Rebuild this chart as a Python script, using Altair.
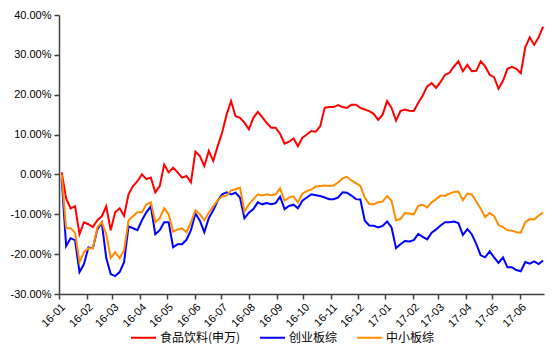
import altair as alt
import pandas as pd

series_names = ["食品饮料(申万)", "创业板综", "中小板综"]
series_colors = ["#FF0000", "#0000FF", "#FF8C00"]
start_date = "2016-01-04"
step_days = 5

# values in percent, one every 5 calendar days
food = [0.5, -6, -8.5, -8, -15, -12, -12.5, -13.2, -11.5, -10.5,
        -8, -14, -9.5, -8.5, -10.4, -5, -2.9, -1.7, 0, -1.2,
        -0.8, -4.5, -2.9, 2.5, 0.5, 1.7, 0.5, -0.8, -0.4, -2,
        5.7, 4.6, 2.1, 5.9, 3.4, 7.1, 10.5, 15, 18.4, 14.6,
        14.2, 13, 11.3, 14.2, 15.7, 14.4, 12.9, 11.7, 11.7, 10.2,
        7.7, 8.2, 9.0, 7.1, 9.2, 10, 10.9, 10.7, 12.1, 16.7,
        16.9, 16.9, 17.4, 16.9, 16.7, 17.5, 17.5, 16.7, 16.3, 15.9,
        15.2, 13.7, 15, 18.4, 16.7, 13.5, 15.9, 16.3, 16, 15.9,
        18, 19.8, 22.1, 22.9, 21.7, 23.2, 25, 25.5, 27.1, 28.4,
        25.9, 27.5, 25.9, 26, 28.4, 27.1, 25, 24.4, 21.5, 23.5,
        26.5, 27, 26.5, 25.4, 31.9, 34.4, 32.5, 34.4, 37.1]

chinext = [-1, -18, -16, -16.5, -24.5, -22.5, -18.3, -18.5, -13.8, -12.1,
           -21, -25, -25.5, -24.5, -22, -13, -13.5, -14, -11.5, -9.5,
           -8, -15, -14, -12, -12, -18.3, -17.5, -17.5, -16.4, -14,
           -9.8, -11.6, -14.5, -11, -9, -6.6, -5, -4.5, -5, -4.6,
           -5.8, -11, -9.6, -8.7, -7, -7.5, -7.2, -7.5, -7.2, -5.6,
           -8.7, -7.9, -7.6, -8.5, -6.6, -5.8, -5, -5.2, -5.4, -5.8,
           -6.2, -6.2, -5.8, -4.5, -4.6, -5.3, -6.2, -6.3, -11.6, -12.8,
           -12.9, -13.3, -12.9, -11.8, -13.3, -18.5, -17.5, -16.7, -16.8, -16.5,
           -14.9, -15.7, -16.3, -14.6, -13.8, -12.8, -12, -12, -11.8, -12.2,
           -15.2, -13.7, -15, -17.4, -20.3, -20.8, -19.3, -20.8, -22.2, -20.8,
           -23.3, -23.3, -24, -24.3, -22, -22.4, -21.8, -22.5, -21.6]

sme = [0, -13.5, -13.5, -14.6, -22, -19.5, -18.5, -18.5, -13.3, -12,
       -15, -21, -19.5, -21, -19, -11.5, -10.5, -9.5, -9.5, -7.5,
       -7, -12, -11, -8.5, -10, -14.4, -13.8, -13.5, -14.5, -12,
       -9, -10, -11.5, -9.6, -8, -6.5, -5.5, -5.3, -4, -3.7,
       -3.3, -9.3, -7.5, -6.2, -5, -5.3, -5, -5.2, -5, -3.5,
       -6.6, -5.8, -5.5, -7, -4.8, -4.2, -3.8, -3, -2.9, -2.8,
       -2.9, -2.8, -2, -1.0, -0.6, -1.5, -2.2, -2.9, -5.8, -7.4,
       -7.5, -7, -6.8, -5.4, -6.6, -11.5, -11.2, -9.7, -9.8, -10,
       -7.9, -7.6, -8.3, -7, -6.2, -5.3, -5.4, -4.8, -4.4, -4.3,
       -6.5, -4.8, -5, -6.8, -8.6, -10.7, -9.7, -10.4, -12.7, -13.2,
       -14, -14.1, -14.5, -14.6, -12, -11.2, -11.3, -10.3, -9.6]

y_ticks = [-0.3, -0.2, -0.1, 0.0, 0.1, 0.2, 0.3, 0.4]
month_ticks = [(2016, m) for m in range(1, 13)] + [(2017, m) for m in range(1, 7)]

dates = pd.date_range(start_date, periods=len(food), freq=f"{step_days}D")
rows = []
for name, vals in zip(series_names, [food, chinext, sme]):
    for d, v in zip(dates, vals):
        rows.append({"date": d, "series": name, "value": v / 100})
df = pd.DataFrame(rows)

axis_common = dict(
    grid=False, domainColor="#404040", domainWidth=1.5, tickColor="#404040",
    tickWidth=1.5, tickSize=5, labelFont="Liberation Sans", labelFontSize=11,
    labelColor="#000000", title=None, labelOverlap=False,
)

x_enc = alt.X(
    "date:T",
    scale=alt.Scale(domain=[alt.DateTime(year=2016, month=1, date=1),
                            alt.DateTime(year=2017, month=6, date=28)]),
    axis=alt.Axis(values=[alt.DateTime(year=y, month=m, date=1) for y, m in month_ticks],
                  format="%y-%m", labelAngle=-45, labelPadding=2, **axis_common),
)
y_enc = alt.Y(
    "value:Q",
    scale=alt.Scale(domain=[-0.3, 0.4], nice=False, zero=False),
    axis=alt.Axis(values=y_ticks, format=".2%", labelPadding=3,
                  labelExpr="replace(format(datum.value, '.2%'), '\u2212', '-')",
                  **axis_common),
)
color_enc = alt.Color(
    "series:N",
    scale=alt.Scale(domain=series_names, range=series_colors),
    legend=alt.Legend(title=None, orient="none", legendX=71, legendY=309,
                      direction="horizontal", symbolType="stroke", symbolSize=625,
                      symbolStrokeWidth=2, labelFont="Noto Sans CJK SC",
                      labelFontSize=12, labelColor="#000000", columnPadding=15,
                      labelOffset=3),
)

layers = []
for name in series_names:
    layers.append(
        alt.Chart(df).transform_filter(alt.datum.series == name)
        .mark_line(strokeWidth=2)
        .encode(x=x_enc, y=y_enc, color=color_enc)
    )

chart = alt.layer(*layers).properties(
    width=485, height=279,
    padding={"left": 51, "top": 7, "right": 6, "bottom": 56},
    autosize=alt.AutoSizeParams(type="none"),
    background="#FFFFFF",
).configure_view(strokeWidth=0)

chart.save("out.html", embed_options={"renderer": "svg", "actions": False})
